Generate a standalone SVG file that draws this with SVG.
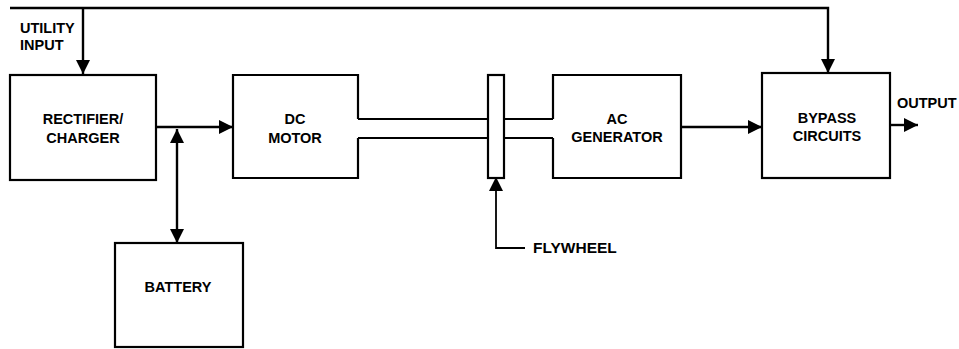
<svg xmlns="http://www.w3.org/2000/svg" width="959" height="349" viewBox="0 0 959 349">
<style>
.box{fill:#fff;stroke:#000;stroke-width:2.2}
.ln{fill:none;stroke:#000;stroke-width:2.4}
.t{font-family:"Liberation Sans",Arial,sans-serif;font-weight:bold;font-size:14.5px;fill:#000}
.c{text-anchor:middle}
</style>
<defs>
<marker id="ah" viewBox="0 0 14 14" refX="14" refY="7" markerWidth="14" markerHeight="14" markerUnits="userSpaceOnUse" orient="auto-start-reverse">
<path d="M0,0 L14,7 L0,14 z" fill="#000"/>
</marker>
</defs>
<rect width="959" height="349" fill="#fff"/>
<g id="connectors">
<path class="ln" d="M10,8 H828 V73" marker-end="url(#ah)"/>
<path class="ln" d="M83,8 V74" marker-end="url(#ah)"/>
<path class="ln" d="M155,127 H233" marker-end="url(#ah)"/>
<path class="ln" d="M177,129 V243" marker-start="url(#ah)" marker-end="url(#ah)"/>
<path class="ln" d="M681,127 H762" marker-end="url(#ah)"/>
<path class="ln" d="M890,125 H918" marker-end="url(#ah)"/>
<path class="ln" d="M525,248 H496 V177" marker-end="url(#ah)" style="stroke-width:1.8"/>
<path class="ln" d="M358,119 H488 M358,138 H488 M504,119 H553 M504,138 H553" style="stroke-width:2.2"/>
</g>
<g id="utility-input">
<text class="t" x="20" y="33">UTILITY</text>
<text class="t" x="20" y="50">INPUT</text>
</g>
<g id="rectifier-charger">
<rect class="box" x="10" y="75" width="146" height="105"/>
<text class="t c" x="83" y="124">RECTIFIER/</text>
<text class="t c" x="83" y="143">CHARGER</text>
</g>
<g id="dc-motor">
<path class="box" style="fill:none" d="M358,119 V75 H233 V178 H358 V138"/>
<text class="t c" x="295" y="124">DC</text>
<text class="t c" x="295" y="143">MOTOR</text>
</g>
<g id="flywheel">
<rect class="box" x="488" y="75" width="16" height="103"/>
<text class="t" x="533" y="253" style="font-size:15.5px">FLYWHEEL</text>
</g>
<g id="ac-generator">
<path class="box" style="fill:none" d="M553,119 V75 H681 V178 H553 V138"/>
<text class="t c" x="617" y="124">AC</text>
<text class="t c" x="617" y="142">GENERATOR</text>
</g>
<g id="bypass-circuits">
<rect class="box" x="762" y="73" width="128" height="105"/>
<text class="t c" x="827" y="123">BYPASS</text>
<text class="t c" x="827" y="141">CIRCUITS</text>
</g>
<g id="output">
<text class="t" x="897" y="108">OUTPUT</text>
</g>
<g id="battery">
<rect class="box" x="115" y="243" width="128" height="104"/>
<text class="t c" x="178" y="292">BATTERY</text>
</g>
</svg>
